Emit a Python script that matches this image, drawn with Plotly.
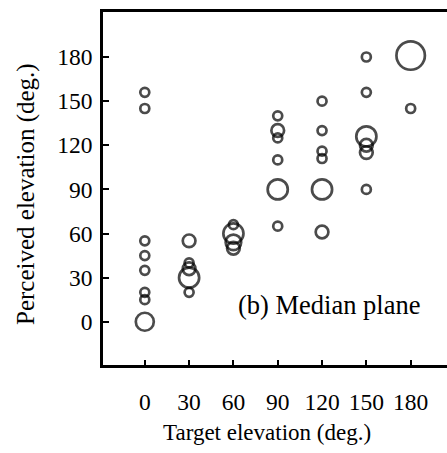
import numpy as np
import plotly.graph_objects as go

# Target elevation (deg.) for each response cluster
target = [0, 0, 0, 0, 0, 0, 0, 0,
          30, 30, 30, 30, 30,
          60, 60, 60, 60,
          90, 90, 90, 90, 90, 90,
          120, 120, 120, 120, 120, 120,
          150, 150, 150, 150, 150, 150,
          180, 180]
# Perceived elevation (deg.)
perceived = [156, 145, 55, 45, 35, 20, 15, 0,
             55, 40, 36, 30, 20,
             66, 60, 54, 50,
             140, 130, 125, 110, 90, 65,
             150, 130, 116, 111, 90, 61,
             180, 156, 126, 120, 115, 90,
             181, 145]
# Number of responses (circle size)
count = [1, 1, 1, 1, 1, 1, 1, 4,
         2, 1, 2, 5, 1,
         1, 5, 3, 2,
         1, 2, 1, 1, 5, 1,
         1, 1, 1, 1, 5, 2,
         1, 1, 5, 2, 2, 1,
         10, 1]

x_ticks = [0, 30, 60, 90, 120, 150, 180]
y_ticks = [0, 30, 60, 90, 120, 150, 180]

FONT = "Liberation Serif"

fig = go.Figure()
fig.add_trace(go.Scatter(
    x=target, y=perceived, mode="markers",
    marker=dict(size=9 * np.sqrt(np.array(count, dtype=float)),
                sizemode="diameter",
                color="rgba(0,0,0,0)",
                line=dict(color="black", width=2.7)),
    showlegend=False, hoverinfo="x+y"))

fig.add_annotation(x=61.5, y=11.4, xref="x", yref="y",
                   text="(b) Median plane", showarrow=False,
                   xanchor="left", yanchor="middle",
                   font=dict(family=FONT, size=26.5, color="black"))

# axis titles
fig.add_annotation(x=0.4753, y=-0.1926, xref="paper", yref="paper",
                   text="Target elevation (deg.)", showarrow=False,
                   xanchor="center", yanchor="middle",
                   font=dict(family=FONT, size=23, color="black"))
fig.add_annotation(x=-0.2238, y=0.4844, xref="paper", yref="paper",
                   text="Perceived elevation (deg.)", showarrow=False,
                   textangle=-90, xanchor="center", yanchor="middle",
                   font=dict(family=FONT, size=25, color="black"))

fig.update_layout(
    width=447, height=453,
    margin=dict(l=103, r=0, t=12, b=88),
    paper_bgcolor="white", plot_bgcolor="white",
    font=dict(family=FONT, color="black"),
    xaxis=dict(range=[-28.3, 204.6], tickvals=x_ticks,
               ticktext=[str(v) for v in x_ticks],
               ticks="inside", ticklen=5, tickwidth=2, tickcolor="black",
               showline=True, linewidth=2.5, linecolor="black", mirror=True,
               showgrid=False, zeroline=False, automargin=False,
               tickfont=dict(family=FONT, size=23.5, color="black"),
               ticklabelstandoff=14),
    yaxis=dict(range=[-29.4, 210.6], tickvals=y_ticks,
               ticktext=[str(v) for v in y_ticks],
               ticks="inside", ticklen=6, tickwidth=2, tickcolor="black",
               showline=True, linewidth=2.5, linecolor="black",
               showgrid=False, zeroline=False, automargin=False,
               tickfont=dict(family=FONT, size=23.5, color="black"),
               ticklabelstandoff=3),
)

fig.write_html("out.html", config={"displayModeBar": False},
               post_script="document.body.style.margin='0';document.body.style.padding='0';")
